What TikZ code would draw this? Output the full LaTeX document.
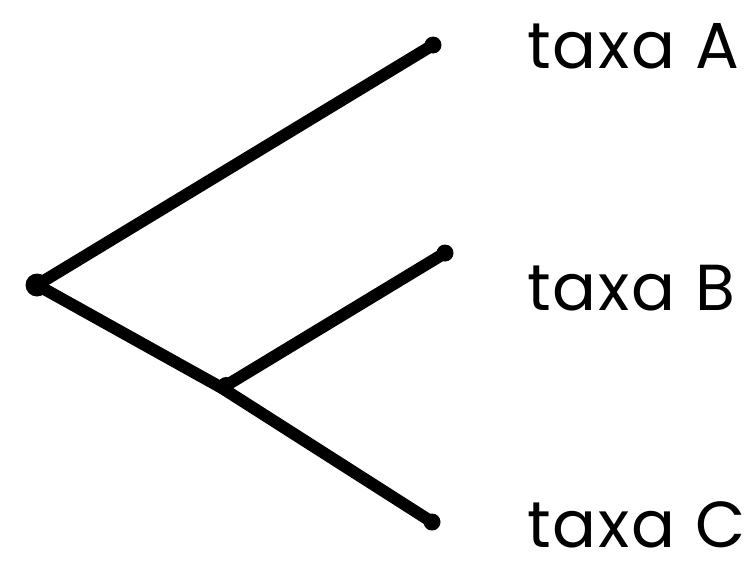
\documentclass[tikz,border=0pt]{standalone}
\usepackage{fontspec}
\setmainfont{Poppins}[LetterSpace=3]
\begin{document}
\begin{tikzpicture}[x=1pt,y=-1pt,
  branch/.style={line width=12pt,line cap=round,line join=round,black},
  tipdot/.style={circle,fill=black,inner sep=0pt,minimum size=17pt},
  taxon/.style={anchor=base west,inner sep=0pt,text depth=0pt,font=\fontsize{65}{65}\selectfont}]
\useasboundingbox (0,0) rectangle (753,565);
\coordinate (root) at (37,285);
\coordinate (mid) at (222,388);
\coordinate (A) at (433,45);
\coordinate (B) at (445,253);
\coordinate (C) at (432,522);
\draw[branch] (root) -- (A);
\draw[branch] (root) -- (mid) -- (C);
\draw[branch] (mid) -- (B);
\node[tipdot,minimum size=23pt] (rootdot) at (root) {};
\node[tipdot] (Adot) at (A) {};
\node[tipdot] (Bdot) at (B) {};
\node[tipdot] (Cdot) at (C) {};
\node[tipdot,minimum size=16pt] (middot) at (226,385) {};
\node[taxon] (la) at (527,68) {taxa A};
\node[taxon] (lb) at (527,310) {taxa B};
\node[taxon] (lc) at (527,547) {taxa C};
\end{tikzpicture}
\end{document}
